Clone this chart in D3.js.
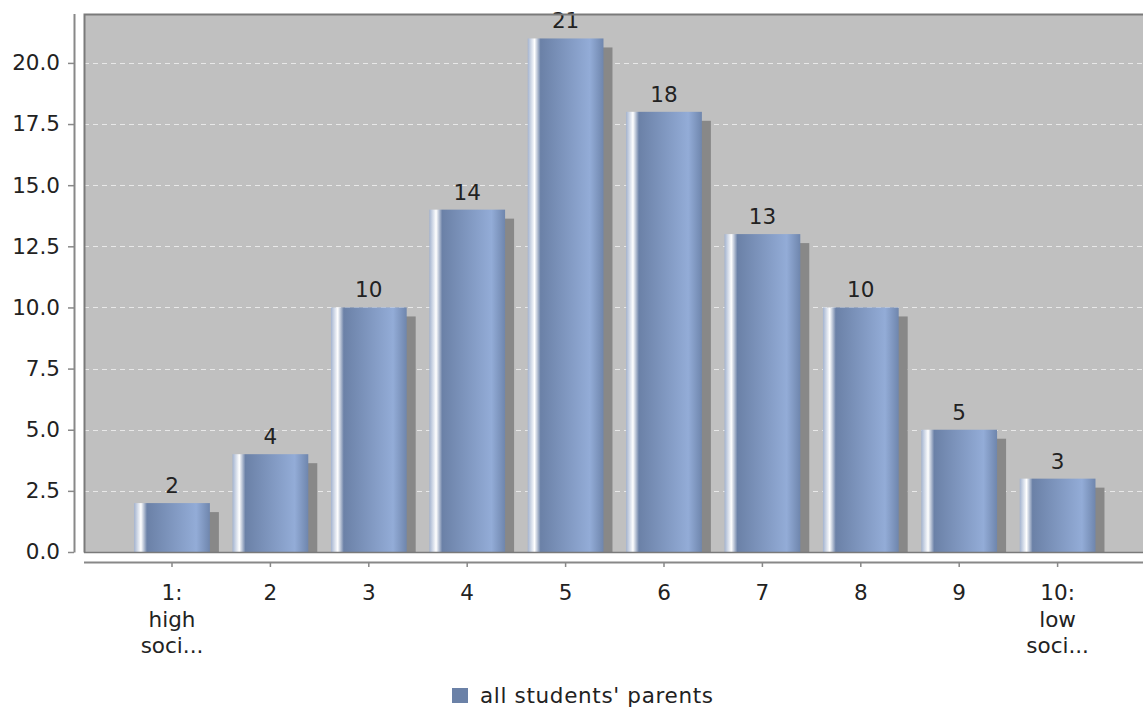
<!DOCTYPE html>
<html>
<head>
<meta charset="utf-8">
<script src="https://cdn.jsdelivr.net/npm/d3@7/dist/d3.min.js"></script>
<style>
html,body{margin:0;padding:0;background:#fff;}
svg{display:block;font-family:"DejaVu Sans",sans-serif;}
</style>
</head>
<body>
<svg id="chart" width="1143" height="709"></svg>
<script>
const categories = ["1:\nhigh\nsoci...", "2", "3", "4", "5", "6", "7", "8", "9", "10:\nlow\nsoci..."];
const values = [2, 4, 10, 14, 21, 18, 13, 10, 5, 3];
const yTicks = [0, 2.5, 5, 7.5, 10, 12.5, 15, 17.5, 20];
const seriesName = "all students' parents";

const FS = 21.5;
const svg = d3.select("#chart");
const plot = {left: 84, top: 14, right: 1150, bottom: 552};

const y = d3.scaleLinear().domain([0, 22]).range([plot.bottom, plot.top]);
const x = d3.scaleBand().domain(categories).range([122.8, 1106.8]).paddingInner(0.23).paddingOuter(0.115);

const defs = svg.append("defs");
const c0 = "#6b81a7", c1 = "#93acd7";
const g = defs.append("linearGradient").attr("id", "barGrad").attr("x1", "0").attr("x2", "1").attr("y1", "0").attr("y2", "0");
[[0, "#a3b3cf"], [0.09, "#ffffff"], [0.17, c0], [0.82, c1], [1, "#6f86ad"]].forEach(([o, c]) => {
  g.append("stop").attr("offset", o).attr("stop-color", c);
});

// plot background
svg.append("rect").attr("x", plot.left).attr("y", plot.top)
  .attr("width", plot.right - plot.left).attr("height", plot.bottom - plot.top)
  .attr("fill", "#c0c0c0");

// gridlines
svg.append("g").selectAll("line").data(yTicks.filter(d => d > 0)).join("line")
  .attr("x1", plot.left).attr("x2", plot.right)
  .attr("y1", d => Math.round(y(d)) + 0.5).attr("y2", d => Math.round(y(d)) + 0.5)
  .attr("stroke", "#e8e8e8").attr("stroke-width", 1).attr("stroke-dasharray", "5,4");

// clip for shadows
defs.append("clipPath").attr("id", "plotClip").append("rect")
  .attr("x", plot.left).attr("y", plot.top).attr("width", plot.right - plot.left).attr("height", plot.bottom - plot.top);

const bars = svg.append("g").attr("clip-path", "url(#plotClip)");
const off = 9;
bars.selectAll("rect.shadow").data(values).join("rect").attr("class", "shadow")
  .attr("x", (d, i) => x(categories[i]) + off)
  .attr("y", d => y(d) + off)
  .attr("width", x.bandwidth())
  .attr("height", d => plot.bottom - y(d))
  .attr("fill", "#888888");
bars.selectAll("rect.bar").data(values).join("rect").attr("class", "bar")
  .attr("x", (d, i) => x(categories[i]))
  .attr("y", d => y(d))
  .attr("width", x.bandwidth())
  .attr("height", d => plot.bottom - y(d))
  .attr("fill", "url(#barGrad)");

// value labels
svg.append("g").selectAll("text").data(values).join("text")
  .attr("x", (d, i) => x(categories[i]) + x.bandwidth() / 2)
  .attr("y", d => y(d) - 10)
  .attr("text-anchor", "middle")
  .attr("font-size", FS).attr("fill", "#222")
  .text(d => d);

// plot border
svg.append("path")
  .attr("d", `M${plot.left + 0.5},${plot.bottom + 0.5}V${plot.top + 0.5}H${plot.right}`)
  .attr("fill", "none").attr("stroke", "#7a7a7a").attr("stroke-width", 2);
svg.append("line").attr("x1", plot.left).attr("x2", plot.right)
  .attr("y1", plot.bottom + 0.5).attr("y2", plot.bottom + 0.5)
  .attr("stroke", "#7a7a7a").attr("stroke-width", 1.5);

// y axis
const yAxis = svg.append("g").attr("transform", "translate(74,0)")
  .call(d3.axisLeft(y).tickValues(yTicks).tickFormat(d3.format(".1f")).tickSize(6).tickPadding(8));
yAxis.select(".domain").attr("d", `M0.5,${plot.top}V${plot.bottom + 0.5}`).attr("stroke", "#888").attr("stroke-width", 2);
yAxis.selectAll(".tick line").attr("stroke", "#888").attr("stroke-width", 1.5);
yAxis.selectAll(".tick text").attr("font-size", FS).attr("fill", "#222").attr("font-family", "DejaVu Sans");

// x axis
const xAxis = svg.append("g").attr("transform", "translate(0,562)")
  .call(d3.axisBottom(x).tickSize(5).tickFormat(""));
xAxis.select(".domain").attr("d", `M${plot.left},0.5H${plot.right}`).attr("stroke", "#888").attr("stroke-width", 2);
xAxis.selectAll(".tick line").attr("stroke", "#888").attr("stroke-width", 1.5);
xAxis.selectAll(".tick").each(function(d) {
  const t = d3.select(this).append("text").attr("text-anchor", "middle")
    .attr("font-size", FS).attr("fill", "#222").attr("font-family", "DejaVu Sans");
  d.split("\n").forEach((line, i) => {
    t.append("tspan").attr("x", 0).attr("y", 38 + i * 26.5).text(line);
  });
});

// legend
const leg = svg.append("g");
leg.append("rect").attr("x", 452).attr("y", 688).attr("width", 16).attr("height", 15).attr("fill", c0);
leg.append("text").attr("x", 480).attr("y", 703).attr("font-size", FS).attr("fill", "#222")
  .attr("textLength", 233).attr("lengthAdjust", "spacing").text(seriesName);
</script>
</body>
</html>
